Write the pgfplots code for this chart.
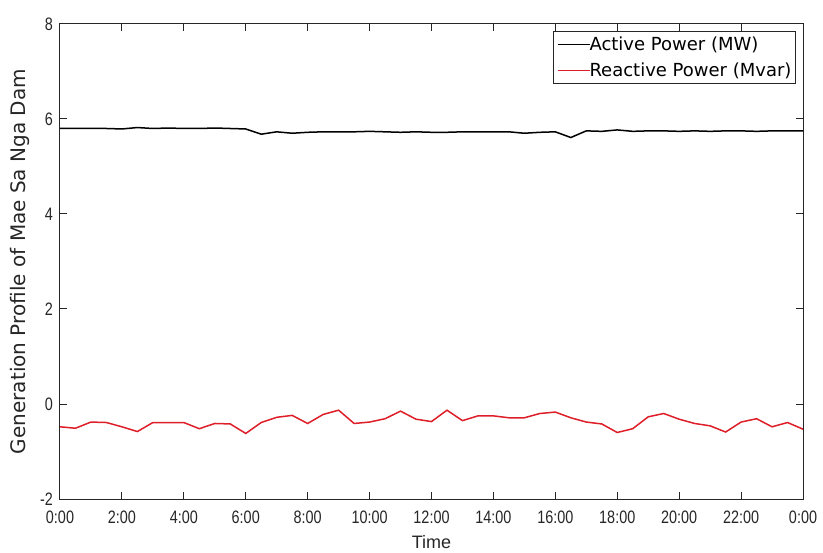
\documentclass[border=0pt]{standalone}
\usepackage{pgfplots}
\pgfplotsset{compat=1.18}
\usepackage{fontspec}
\setmainfont{Liberation Sans}
\newfontfamily\tickfont{Liberation Sans}[FakeStretch=0.8]
\newfontfamily\dvs{DejaVu Sans}
\definecolor{myred}{RGB}{222,30,40}
\pgfplotstableread{
x active reactive
0 5.80 -0.48
0.5 5.80 -0.51
1 5.80 -0.38
1.5 5.80 -0.39
2 5.79 -0.48
2.5 5.82 -0.58
3 5.80 -0.39
3.5 5.81 -0.39
4 5.80 -0.39
4.5 5.80 -0.52
5 5.81 -0.41
5.5 5.80 -0.42
6 5.79 -0.62
6.5 5.68 -0.39
7 5.73 -0.28
7.5 5.70 -0.24
8 5.72 -0.41
8.5 5.73 -0.22
9 5.73 -0.13
9.5 5.73 -0.41
10 5.74 -0.38
10.5 5.73 -0.31
11 5.72 -0.15
11.5 5.73 -0.32
12 5.72 -0.37
12.5 5.72 -0.13
13 5.73 -0.35
13.5 5.73 -0.25
14 5.73 -0.25
14.5 5.73 -0.29
15 5.70 -0.29
15.5 5.72 -0.20
16 5.73 -0.17
16.5 5.61 -0.29
17 5.75 -0.38
17.5 5.74 -0.42
18 5.77 -0.60
18.5 5.74 -0.52
19 5.75 -0.27
19.5 5.75 -0.20
20 5.74 -0.32
20.5 5.75 -0.41
21 5.74 -0.46
21.5 5.75 -0.59
22 5.75 -0.38
22.5 5.74 -0.31
23 5.75 -0.48
23.5 5.75 -0.39
24 5.75 -0.53
}\datatable
\begin{document}
\begin{tikzpicture}
\begin{axis}[
  width=371.5pt, height=237.5pt, scale only axis,
  xmin=0, xmax=24, ymin=-2, ymax=8,
  xtick={0,2,...,24},
  xticklabels={0:00,2:00,4:00,6:00,8:00,10:00,12:00,14:00,16:00,18:00,20:00,22:00,0:00},
  ytick={-2,0,2,4,6,8},
  yticklabels={-2,0,2,4,6,8},
  tick align=inside, tick pos=both,
  major tick length=3.5pt,
  tick style={black!85, line width=0.5pt},
  axis line style={black!85, line width=0.5pt},
  ticklabel style={font=\tickfont\fontsize{9}{10}\selectfont, text=black!85},
  xticklabel style={yshift=-2.5pt},
  xlabel={Time},
  xlabel style={font=\fontsize{9}{10}\selectfont, text=black!85, at={(axis description cs:0.5,-0.0905)}, anchor=center},
  ylabel={Generation Profile of Mae Sa Nga Dam},
  ylabel style={font=\dvs\fontsize{10}{11}\selectfont, text=black!85, at={(axis description cs:-0.0538,0.5)}, anchor=center},
]
\addplot[draw=black, line width=0.75pt] table[x=x, y=active] {\datatable};
\addplot[draw=myred, line width=0.75pt] table[x=x, y=reactive] {\datatable};
\end{axis}
\node[draw=black!85, line width=0.5pt, fill=white, anchor=north east, inner xsep=2pt, inner ysep=2.5pt,
  font=\dvs\fontsize{9}{13}\selectfont, align=left]
  at ([xshift=-3.5pt,yshift=-3.5pt]current axis.north east)
  {\textcolor{black}{\rule[0.3em]{16pt}{0.6pt}}Active Power (MW)\\
   \textcolor{myred}{\rule[0.3em]{16pt}{0.6pt}}Reactive Power (Mvar)};
\pgfresetboundingbox
\path[use as bounding box] ([xshift=-30pt,yshift=-26.5pt]current axis.south west) rectangle ([xshift=10pt,yshift=12pt]current axis.north east);
\end{tikzpicture}
\end{document}
